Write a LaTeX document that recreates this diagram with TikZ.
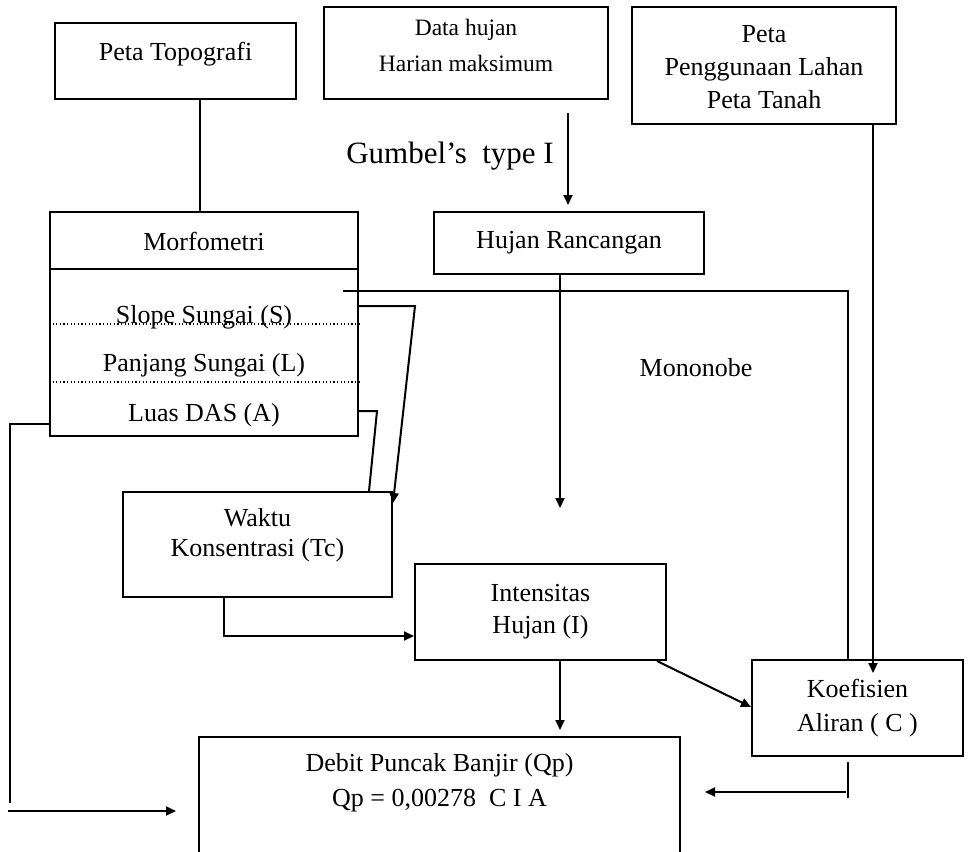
\documentclass[tikz,border=0pt]{standalone}
\usepackage{fontspec}
\setmainfont{Liberation Serif}
\usetikzlibrary{arrows.meta}
\newcommand\fnorm{\fontsize{13pt}{16.5pt}\selectfont}
\newcommand\fsmall{\fontsize{11.75pt}{18pt}\selectfont}
\newcommand\fbig{\fontsize{15.5pt}{18pt}\selectfont}
\begin{document}
\begin{tikzpicture}[x=0.5pt,y=-0.5pt,
  box/.style 2 args={draw, line width=1pt, minimum width=#1*0.5pt, minimum height=#2*0.5pt,
    inner sep=0pt, align=center, font=\fnorm},
  txt/.style={inner sep=0pt, align=center, font=\fnorm},
  conn/.style={line width=1pt},
  arr/.style={line width=1pt, -{Triangle[length=5pt,width=4.5pt]}},
  dots/.style={line width=0.6pt, dash pattern=on 0.6pt off 1.2pt}]
\useasboundingbox (0,0) rectangle (968,851);

% boxes
\node[box={241}{76}] (topo) at (175.5,61) {};
\node[txt] (topotext) at (175.5,54) {Peta Topografi};
\node[box={284}{92}] (datah) at (466,53) {};
\node[txt, font=\fsmall] (datahtext) at (466,45) {Data hujan\\Harian maksimum};
\node[box={264}{117}] (peta) at (764,65.5) {};
\node[txt] (petatext) at (764,67.5) {Peta\\Penggunaan Lahan\\Peta Tanah};
\node[box={270}{62}] (hr) at (569,243) {Hujan Rancangan};
\node[box={308}{224}] (morf) at (204,324) {};
\node[box={269}{105}] (waktu) at (257.5,544.5) {};
\node[txt, font=\fontsize{13pt}{15pt}\selectfont] (waktutext) at (257.5,535) {Waktu\\Konsentrasi (Tc)};
\node[box={251}{96}, font=\fontsize{13pt}{16pt}\selectfont] (inten) at (540.5,612) {Intensitas\\Hujan (I)};
\node[box={211}{96}, font=\fontsize{13pt}{17pt}\selectfont] (koef) at (857.5,708) {Koefisien\\Aliran ( C )};
\node[minimum width=481*0.5pt, minimum height=114*0.5pt, inner sep=0pt, anchor=north] (debitbox) at (439.5,737) {};
\draw[conn] (debitbox.south west) -- (debitbox.north west) -- (debitbox.north east) -- (debitbox.south east);
\node[txt, font=\fontsize{13pt}{17.5pt}\selectfont] (debit) at (439.5,783) {Debit Puncak Banjir (Qp)\\Qp = 0,00278~~C I A};

% Morfometri contents
\node[txt, anchor=base] (morft) at (204,250) {Morfometri};
\node[txt, anchor=base] (slope) at (204,323) {Slope Sungai (S)};
\node[txt, anchor=base] (panjang) at (204,371) {Panjang Sungai (L)};
\node[txt, anchor=base] (luas) at (204,421) {Luas DAS (A)};
\draw[conn] (morf.west |- 0,269) -- (morf.east |- 0,269);
\draw[dots] (morf.west |- 0,324) -- (morf.east |- 0,324);
\draw[dots] (morf.west |- 0,382) -- (362,382);

% free labels
\node[txt, font=\fbig, anchor=base] (gumbel) at (450,163) {Gumbel’s~~type I};
\node[txt] (mononobe) at (696,368) {Mononobe};

% coordinates for free ends
\coordinate (g1) at (568,113);
\coordinate (g2) at (568,205);
\coordinate (m1) at (560,508);
\coordinate (s1) at (343,291);
\coordinate (k1) at (873,673);
\coordinate (d1) at (560,730);
\coordinate (l1) at (10,803);
\coordinate (l2) at (8,811);
\coordinate (l3) at (176,811);
\coordinate (c1) at (848,762);
\coordinate (c2) at (848,798);
\coordinate (c3) at (846,792);
\coordinate (c4) at (705,792);

% connectors
\draw[conn] (topo.south -| 200,0) -- (morf.north -| 200,0);
\draw[arr] (g1) -- (g2);
\draw[arr] (hr.south -| m1) -- (m1);
\draw[conn] (s1) -- (848,291) -- (koef.north -| 848,0);
\draw[arr] (peta.south -| k1) -- (k1);
\draw[arr] (morf.east |- 0,306) -- (415,306) -- (waktu.east |- 0,503);
\draw[conn] (morf.east |- 0,411) -- (377,411) -- (waktu.north -| 369,0);
\draw[arr] (waktu.south -| 224,0) -- (224,636) -- (inten.west |- 0,636);
\draw[arr] (inten.south -| d1) -- (d1);
\draw[arr] ([xshift=-5pt]inten.south east) -- (koef.west |- 0,707);
\draw[conn] (morf.west |- 0,424) -- (10,424) -- (l1);
\draw[arr] (l2) -- (l3);
\draw[conn] (c1) -- (c2);
\draw[arr] (c3) -- (c4);
\end{tikzpicture}
\end{document}
